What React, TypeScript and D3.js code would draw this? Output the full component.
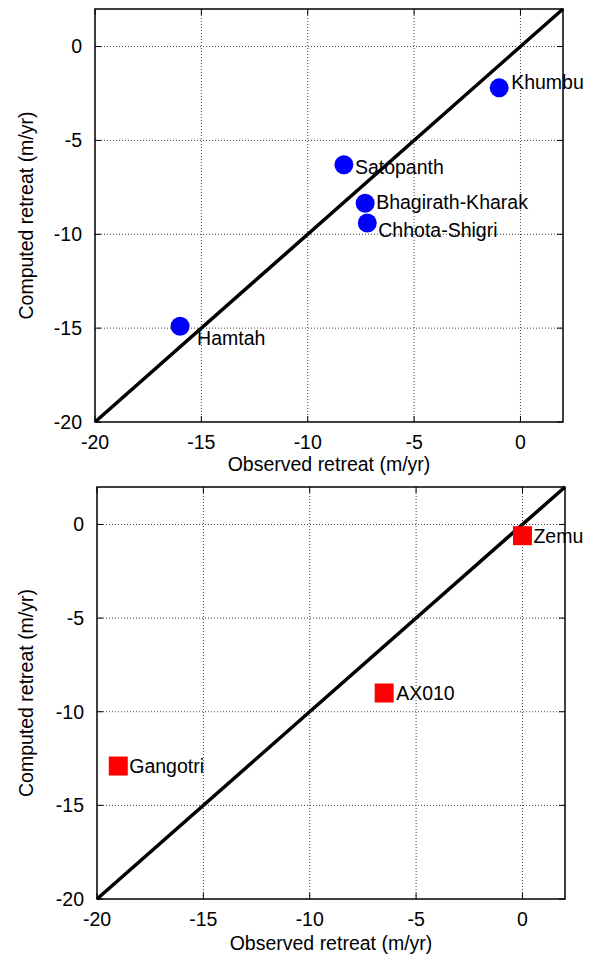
import React, { useEffect, useRef } from 'react';
import * as d3 from 'd3';

// glacier retreat, observed vs computed (m/yr)
const circleNames = ['Khumbu', 'Satopanth', 'Bhagirath-Kharak', 'Chhota-Shigri', 'Hamtah'];
const circleObserved = [-1.0, -8.3, -7.3, -7.2, -16.0];
const circleComputed = [-2.2, -6.3, -8.35, -9.4, -14.9];

const squareNames = ['Zemu', 'AX010', 'Gangotri'];
const squareObserved = [0.0, -6.5, -19.0];
const squareComputed = [-0.6, -9.0, -12.9];

const tickValues = [-20, -15, -10, -5, 0];
const axisDomain = [-20, 2];

// label offsets in px (dx, dy from the marker centre)
const labelOffsets = {
  Khumbu: [12, -6],
  Satopanth: [11, 2],
  'Bhagirath-Kharak': [11, -1],
  'Chhota-Shigri': [11, 7],
  Hamtah: [17, 12],
  Zemu: [11, 0],
  AX010: [12, 0],
  Gangotri: [11, 0],
};

const FONT = '"Liberation Sans", Arial, sans-serif';
const FS = '19.5px';

function drawPanel(svg, box, names, xs, ys, shape) {
  const x = d3.scaleLinear().domain(axisDomain).range([box.left, box.right]);
  const y = d3.scaleLinear().domain(axisDomain).range([box.bottom, box.top]);
  const g = svg.append('g');

  // dotted grid
  g.selectAll('.gx')
    .data(tickValues.filter(d => d !== -20))
    .enter()
    .append('line')
    .attr('x1', d => x(d)).attr('x2', d => x(d))
    .attr('y1', box.top).attr('y2', box.bottom)
    .attr('stroke', '#444').attr('stroke-width', 1).attr('stroke-dasharray', '1,2');
  g.selectAll('.gy')
    .data(tickValues.filter(d => d !== -20))
    .enter()
    .append('line')
    .attr('x1', box.left).attr('x2', box.right)
    .attr('y1', d => y(d)).attr('y2', d => y(d))
    .attr('stroke', '#444').attr('stroke-width', 1).attr('stroke-dasharray', '1,2');

  // inward ticks on all sides
  const tl = 6;
  tickValues.forEach(t => {
    g.append('line').attr('x1', x(t)).attr('x2', x(t)).attr('y1', box.bottom).attr('y2', box.bottom - tl).attr('stroke', '#000');
    g.append('line').attr('x1', x(t)).attr('x2', x(t)).attr('y1', box.top).attr('y2', box.top + tl).attr('stroke', '#000');
    g.append('line').attr('y1', y(t)).attr('y2', y(t)).attr('x1', box.left).attr('x2', box.left + tl).attr('stroke', '#000');
    g.append('line').attr('y1', y(t)).attr('y2', y(t)).attr('x1', box.right).attr('x2', box.right - tl).attr('stroke', '#000');
  });

  // border
  g.append('rect')
    .attr('x', box.left).attr('y', box.top)
    .attr('width', box.right - box.left).attr('height', box.bottom - box.top)
    .attr('fill', 'none').attr('stroke', '#000').attr('stroke-width', 1.5);

  // tick labels
  g.selectAll('.xl')
    .data(tickValues)
    .enter()
    .append('text')
    .attr('x', d => x(d))
    .attr('y', box.bottom + 27)
    .attr('text-anchor', 'middle')
    .style('font-family', FONT).style('font-size', FS)
    .text(d => d);
  g.selectAll('.yl')
    .data(tickValues)
    .enter()
    .append('text')
    .attr('x', box.left - 13)
    .attr('y', d => y(d))
    .attr('dy', '0.35em')
    .attr('text-anchor', 'end')
    .style('font-family', FONT).style('font-size', FS)
    .text(d => d);

  // axis titles
  g.append('text')
    .attr('x', (box.left + box.right) / 2)
    .attr('y', box.bottom + box.titleGap)
    .attr('text-anchor', 'middle')
    .style('font-family', FONT).style('font-size', FS)
    .text('Observed retreat (m/yr)');
  g.append('text')
    .attr('transform', `translate(33,${(box.top + box.bottom) / 2}) rotate(-90)`)
    .attr('text-anchor', 'middle')
    .style('font-family', FONT).style('font-size', FS)
    .text('Computed retreat (m/yr)');

  // 1:1 line
  g.append('line')
    .attr('x1', x(axisDomain[0])).attr('y1', y(axisDomain[0]))
    .attr('x2', x(axisDomain[1])).attr('y2', y(axisDomain[1]))
    .attr('stroke', '#000').attr('stroke-width', 3.5);

  const pts = names.map((n, i) => ({ name: n, ox: xs[i], cy: ys[i] }));

  if (shape === 'circle') {
    g.selectAll('.pt')
      .data(pts)
      .enter()
      .append('circle')
      .attr('cx', d => x(d.ox))
      .attr('cy', d => y(d.cy))
      .attr('r', 9.5)
      .attr('fill', '#0000ff');
  } else {
    const s = 19;
    g.selectAll('.pt')
      .data(pts)
      .enter()
      .append('rect')
      .attr('x', d => x(d.ox) - s / 2)
      .attr('y', d => y(d.cy) - s / 2)
      .attr('width', s).attr('height', s)
      .attr('fill', '#ff0000');
  }

  g.selectAll('.lbl')
    .data(pts)
    .enter()
    .append('text')
    .attr('x', d => x(d.ox) + labelOffsets[d.name][0])
    .attr('y', d => y(d.cy) + labelOffsets[d.name][1])
    .attr('dy', '0.35em')
    .style('font-family', FONT).style('font-size', FS)
    .text(d => d.name);
}

function App() {
  const svgRef = useRef(null);

  useEffect(() => {
    const svg = d3.select(svgRef.current);
    svg.selectAll('*').remove();

    drawPanel(svg, { left: 95, right: 563, top: 9, bottom: 422, titleGap: 49 },
      circleNames, circleObserved, circleComputed, 'circle');
    drawPanel(svg, { left: 97, right: 565, top: 487, bottom: 899, titleGap: 51 },
      squareNames, squareObserved, squareComputed, 'square');
  }, []);

  return (
    <div style={{ position: 'absolute', left: 0, top: 0 }}>
      <svg ref={svgRef} width={592} height={962} style={{ display: 'block', background: '#fff' }}></svg>
    </div>
  );
}

export default App;
